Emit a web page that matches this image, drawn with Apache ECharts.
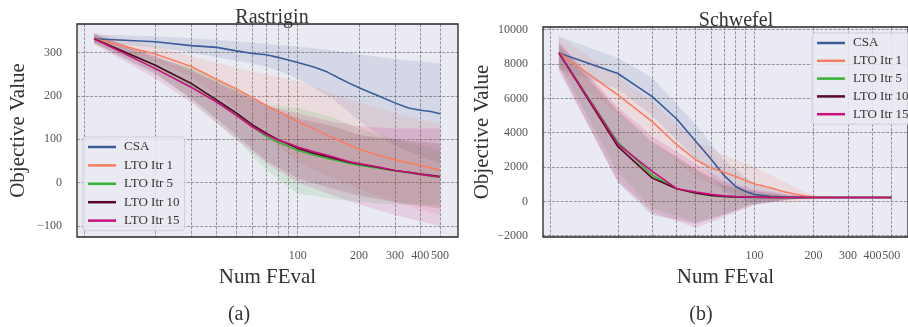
<!DOCTYPE html>
<html lang="en">
<head>
    <meta charset="UTF-8">
    <title>Rastrigin / Schwefel</title>
    <style>
        html, body { margin: 0; padding: 0; background: #fff; }
    </style>
</head>
<body>
<div id="main" style="width: 908px;height:327px;"></div>
<script src="https://cdn.jsdelivr.net/npm/echarts@6/dist/echarts.min.js"></script>
<script type="text/javascript">
    // number of function evaluations (x) for the mean curves and for the bands
    var nfe = [10, 20, 30, 40, 50, 60, 70, 80, 90, 100, 120, 140, 160, 180, 200, 250, 300, 350, 400, 450, 500];
    var bandNfe = [10, 20, 30, 50, 70, 100, 150, 200, 300, 500];
    var names = ["CSA", "LTO Itr 1", "LTO Itr 5", "LTO Itr 10", "LTO Itr 15"];
    var colors = ["#3b5b9a", "#fa7d62", "#33b233", "#5a0628", "#c90f7d"];

    // Rastrigin - mean
    var rasCSA   = [332, 325, 316, 312, 304, 298, 295, 289, 283, 277, 267, 255, 241, 229, 219, 200, 184, 172, 167, 164, 159];
    var rasItr1  = [332, 297, 268, 238, 216, 196, 178, 164, 152, 141, 124, 109, 97, 86, 77, 63, 53, 46, 40, 34, 29];
    var rasItr5  = [332, 271, 228, 190, 158, 129, 107, 93, 84, 74, 64, 56, 50, 44, 40, 33, 27, 23, 19, 15, 12];
    var rasItr10 = [332, 271, 229, 191, 161, 133, 114, 99, 89, 79, 68, 60, 53, 47, 43, 35, 28, 24, 20, 17, 14];
    var rasItr15 = [332, 263, 220, 186, 155, 128, 111, 98, 91, 82, 71, 63, 55, 48, 44, 36, 28, 24, 19, 16, 13];
    // Rastrigin - band (upper / lower) on bandNfe
    var rasCSAHi   = [342, 338, 333, 326, 320, 314, 305, 296, 285, 275];
    var rasCSALo   = [322, 312, 300, 282, 268, 240, 192, 142, 85, 43];
    var rasItr1Hi  = [345, 315, 292, 265, 250, 235, 205, 185, 160, 135];
    var rasItr1Lo  = [320, 280, 245, 168, 106, 47, 10, -15, -45, -75];
    var rasItr5Hi  = [342, 287, 266, 216, 180, 173, 150, 125, 100, 76];
    var rasItr5Lo  = [322, 255, 190, 100, 30, -25, -38, -45, -50, -52];
    var rasItr10Hi = [342, 292, 262, 212, 178, 148, 130, 110, 100, 90];
    var rasItr10Lo = [322, 250, 195, 110, 50, 10, -15, -30, -45, -60];
    var rasItr15Hi = [345, 290, 258, 210, 178, 160, 140, 130, 125, 125];
    var rasItr15Lo = [320, 240, 185, 100, 45, 0, -30, -50, -75, -100];

    // Schwefel - mean
    var schCSA   = [8650, 7450, 6100, 4800, 3500, 2450, 1500, 870, 580, 400, 290, 250, 235, 232, 230, 230, 230, 230, 230, 230, 230];
    var schItr1  = [8650, 6200, 4650, 3300, 2430, 1950, 1700, 1450, 1220, 1010, 790, 570, 430, 320, 250, 235, 230, 230, 230, 230, 230];
    var schItr5  = [8650, 3450, 1520, 740, 470, 330, 280, 250, 240, 235, 232, 230, 230, 230, 230, 230, 230, 230, 230, 230, 230];
    var schItr10 = [8650, 3200, 1360, 740, 490, 350, 290, 260, 245, 238, 233, 230, 230, 230, 230, 230, 230, 230, 230, 230, 230];
    var schItr15 = [8650, 3340, 1750, 740, 550, 410, 320, 280, 255, 240, 233, 230, 230, 230, 230, 230, 230, 230, 230, 230, 230];
    // Schwefel - band
    var schCSAHi   = [9600, 8350, 7200, 4500, 2400, 1000, 400, 250, 235, 230];
    var schCSALo   = [7700, 6550, 5000, 2500, 600, -200, 100, 210, 228, 230];
    var schItr1Hi  = [9600, 7300, 5800, 3500, 2700, 2000, 1000, 350, 240, 230];
    var schItr1Lo  = [7700, 5100, 3500, 1400, 700, 100, -100, 120, 220, 230];
    var schItr5Hi  = [9000, 5200, 3400, 1800, 900, 500, 300, 250, 232, 230];
    var schItr5Lo  = [8000, 1700, -400, -1200, -700, -100, 130, 200, 228, 230];
    var schItr10Hi = [9200, 5300, 3500, 1900, 1000, 600, 350, 260, 233, 230];
    var schItr10Lo = [7800, 1100, -800, -1300, -800, -150, 120, 190, 228, 230];
    var schItr15Hi = [9300, 5500, 3800, 2200, 1200, 700, 400, 270, 235, 230];
    var schItr15Lo = [7600, 1200, -600, -1550, -900, -200, 100, 180, 228, 230];

    // tick positions
    var gridNfe = [9, 20, 30, 40, 50, 60, 70, 80, 90, 100, 200, 300, 400, 500];
    var labelNfe = [100, 200, 300, 400, 500];
    var rasTicks = [-100, 0, 100, 200, 300];
    var schTicks = [-2000, 0, 2000, 4000, 6000, 8000, 10000];

    var font = "Liberation Serif";
    var lg = function (v) { return Math.log10(v); };
    var minus = function (v) { return v < 0 ? "\u2212" + (-v) : String(v); };

    var myChart = echarts.init(document.getElementById("main"));

    function lineSeries(name, ys, color, gi) {
        return {
            name: name, type: "line", xAxisIndex: gi, yAxisIndex: gi,
            data: nfe.map(function (x, i) { return [lg(x), ys[i]]; }),
            symbol: "none", smooth: false, z: 3, silent: true,
            lineStyle: {color: color, width: 1.6},
            itemStyle: {color: color}
        };
    }

    // shaded spread band, drawn as one polygon through the axes' coordinates
    function bandSeries(lo, hi, color, gi) {
        return {
            type: "custom", xAxisIndex: gi, yAxisIndex: gi, z: 1, silent: true,
            data: bandNfe.map(function (x, i) { return [lg(x), lo[i], hi[i]]; }),
            encode: {x: 0, y: [1, 2]},
            itemStyle: {color: color},
            renderItem: function (params, api) {
                if (params.dataIndex !== 0) return;
                var pts = [];
                for (var i = 0; i < bandNfe.length; i++) pts.push(api.coord([lg(bandNfe[i]), hi[i]]));
                for (var j = bandNfe.length - 1; j >= 0; j--) pts.push(api.coord([lg(bandNfe[j]), lo[j]]));
                return {type: "polygon", shape: {points: pts}, style: {fill: color, opacity: 0.13}};
            }
        };
    }

    function xAxis(gi, min, max) {
        return {
            type: "value", gridIndex: gi, min: min, max: max,
            name: "Num FEval", nameLocation: "middle", nameGap: 20,
            nameTextStyle: {fontFamily: font, fontSize: 21, color: "#333"},
            axisLine: {show: false},
            axisTick: {show: false, customValues: gridNfe.map(lg)},
            axisLabel: {
                customValues: labelNfe.map(lg), margin: 13,
                fontFamily: font, fontSize: 12, color: "#555",
                formatter: function (v) { return String(Math.round(Math.pow(10, v))); }
            },
            splitLine: {show: true, lineStyle: {color: "rgba(40,40,40,0.55)", width: 0.8, type: [3, 1.4]}}
        };
    }

    function yAxis(gi, min, max, ticks, gap) {
        return {
            type: "value", gridIndex: gi, min: min, max: max,
            name: "Objective Value", nameLocation: "middle", nameGap: gap,
            nameTextStyle: {fontFamily: font, fontSize: 21, color: "#333"},
            axisLine: {show: false},
            axisTick: {show: false, customValues: ticks},
            axisLabel: {customValues: ticks, margin: 15, fontFamily: font, fontSize: 12, color: "#555", formatter: minus},
            splitLine: {show: true, lineStyle: {color: "rgba(40,40,40,0.55)", width: 0.8, type: [3, 1.4]}}
        };
    }

    function legend(left, top, gap) {
        return {
            data: names, left: left, top: top, orient: "vertical",
            icon: "rect", itemWidth: 28, itemHeight: 2.5, itemGap: gap,
            padding: [3, 5, 3, 5],
            backgroundColor: "rgba(234,234,242,0.85)", borderColor: "#cfcfd6", borderWidth: 1, borderRadius: 3,
            textStyle: {fontFamily: font, fontSize: 13, color: "#333", lineHeight: 14, padding: [0, 0, 0, 3]},
            selectedMode: false
        };
    }

    var series = [];
    [[rasCSALo, rasCSAHi], [rasItr1Lo, rasItr1Hi], [rasItr5Lo, rasItr5Hi],
        [rasItr10Lo, rasItr10Hi], [rasItr15Lo, rasItr15Hi]].forEach(function (b, k) {
        series.push(bandSeries(b[0], b[1], colors[k], 0));
    });
    [[schCSALo, schCSAHi], [schItr1Lo, schItr1Hi], [schItr5Lo, schItr5Hi],
        [schItr10Lo, schItr10Hi], [schItr15Lo, schItr15Hi]].forEach(function (b, k) {
        series.push(bandSeries(b[0], b[1], colors[k], 1));
    });
    [rasCSA, rasItr1, rasItr5, rasItr10, rasItr15].forEach(function (s, k) {
        series.push(lineSeries(names[k], s, colors[k], 0));
    });
    [schCSA, schItr1, schItr5, schItr10, schItr15].forEach(function (s, k) {
        series.push(lineSeries(names[k], s, colors[k], 1));
    });

    var titleStyle = {fontFamily: font, fontSize: 20, fontWeight: "normal", color: "#333"};
    var option = {
        animation: false,
        backgroundColor: "#ffffff",
        textStyle: {fontFamily: font},
        title: [
            {text: "Rastrigin", left: 267, top: 3, textAlign: "center", textStyle: titleStyle},
            {text: "Schwefel", left: 731, top: 6, textAlign: "center", textStyle: titleStyle},
            {text: "(a)", left: 234, top: 300, textAlign: "center", textStyle: titleStyle},
            {text: "(b)", left: 696, top: 300, textAlign: "center", textStyle: titleStyle}
        ],
        legend: [legend(83, 137, 4.4), legend(812, 33, 3.8)],
        grid: [
            {left: 77, top: 24, width: 381, height: 213, show: true, backgroundColor: "#eaeaf2", borderColor: "#262626", borderWidth: 1.3},
            {left: 543, top: 27, width: 377, height: 210, show: true, backgroundColor: "#eaeaf2", borderColor: "#262626", borderWidth: 1.3}
        ],
        xAxis: [xAxis(0, 0.9165, 2.787), xAxis(1, 0.9187, 2.784)],
        yAxis: [yAxis(0, -125.5, 366, rasTicks, 48), yAxis(1, -2075, 10160, schTicks, 50)],
        series: series
    };

    myChart.setOption(option);
</script>
</body>
</html>
